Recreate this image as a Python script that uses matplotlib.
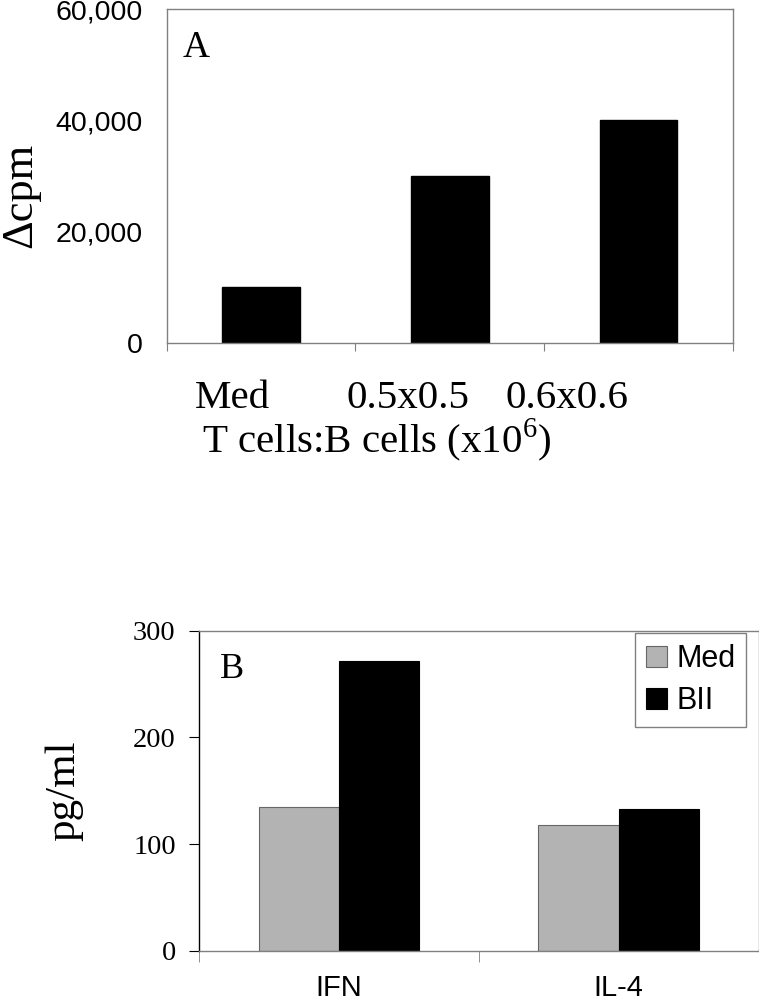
import numpy as np
import matplotlib
matplotlib.use('Agg')
import matplotlib.pyplot as plt
from matplotlib.ticker import FuncFormatter

plt.rcParams['mathtext.fontset'] = 'custom'
plt.rcParams['mathtext.rm'] = 'Liberation Serif'

SERIF = 'Liberation Serif'
SANS = 'Liberation Sans'

# Panel A data
a_labels = ['Med', '0.5x0.5', '0.6x0.6']
a_values = [10000, 30000, 40000]
a_yticks = [0, 20000, 40000, 60000]

# Panel B data
b_groups = ['IFN', 'IL-4']
b_med = [135, 118]
b_bii = [272, 133]
b_yticks = [0, 100, 200, 300]

spine_gray = '#808080'

fig = plt.figure(figsize=(7.59, 10.08), dpi=100)

# ---------------- Panel A ----------------
axA = fig.add_axes([0.2196, 0.6597, 0.7462, 0.3313])
xa = np.arange(len(a_values))
axA.bar(xa, a_values, width=0.41, color='black', edgecolor='black')
axA.set_xlim(-0.5, 2.5)
axA.set_ylim(0, 60000)
axA.set_yticks(a_yticks)
axA.yaxis.set_major_formatter(FuncFormatter(lambda v, p: f'{int(v):,}'))
axA.tick_params(axis='y', length=0, pad=17, labelsize=20.5)
for lab in axA.get_yticklabels():
    lab.set_fontfamily(SANS)
axA.set_xticks([-0.5, 0.5, 1.5, 2.5])
axA.set_xticklabels([])
axA.tick_params(axis='x', length=6, color=spine_gray, direction='out')
for s in axA.spines.values():
    s.set_color(spine_gray)
    s.set_linewidth(1.0)
axA.text(0.029, 0.856, 'A', transform=axA.transAxes, fontsize=27,
         family=SERIF, va='baseline', ha='left')

# category labels typed as a line under the axis
for xpx, lab in zip([233, 408, 567], a_labels):
    fig.text(xpx / 759, 1 - 408 / 1008, lab, fontsize=29.5, family=SERIF,
             ha='center', va='baseline')
fig.text(202 / 759, 1 - 453 / 1008, r'T cells:B cells (x10$^{6}$)', fontsize=29.5,
         family=SERIF, ha='left', va='baseline')
fig.text(20 / 759, 1 - 195 / 1008, '\u0394cpm', fontsize=32, family=SERIF,
         rotation=90, ha='center', va='center')

# ---------------- Panel B ----------------
axB = fig.add_axes([0.2626, 0.05685, 0.7368, 0.31746])
xb = np.arange(len(b_groups))
bw = 0.287
axB.bar(xb - bw / 2, b_med, width=bw, color='#b3b3b3', edgecolor='#666666',
        linewidth=0.8, label='Med')
axB.bar(xb + bw / 2, b_bii, width=bw, color='black', edgecolor='black',
        linewidth=0.8, label='BII')
axB.set_xlim(-0.5, 1.5)
axB.set_ylim(0, 300)
axB.set_yticks(b_yticks)
axB.tick_params(axis='y', length=7, pad=10, labelsize=20.5, color='black')
for lab in axB.get_yticklabels():
    lab.set_fontfamily(SERIF)
axB.set_xticks(xb)
axB.set_xticklabels(b_groups, fontsize=21, family=SANS)
axB.tick_params(axis='x', which='major', length=0, pad=17)
axB.set_xticks([-0.5, 0.5, 1.5], minor=True)
axB.tick_params(axis='x', which='minor', length=8, color=spine_gray)
for name, s in axB.spines.items():
    s.set_color(spine_gray)
    s.set_linewidth(1.0)
axB.spines['left'].set_color('black')
axB.text(0.037, 0.852, 'B', transform=axB.transAxes, fontsize=26,
         family=SERIF, va='baseline', ha='left')
axB.set_ylabel('pg/ml', fontsize=31, family=SERIF)
axB.yaxis.set_label_coords(-0.208, 0.5)
leg = axB.legend(loc='upper right', bbox_to_anchor=(0.9777, 0.9919),
                 borderaxespad=0, fancybox=False, framealpha=1,
                 edgecolor=spine_gray, prop={'family': SANS, 'size': 22},
                 handlelength=0.7, handleheight=0.7, handletextpad=0.3,
                 labelspacing=0.4, borderpad=0.35)
leg.get_frame().set_linewidth(1.0)

fig.savefig('out.png', dpi=100)
